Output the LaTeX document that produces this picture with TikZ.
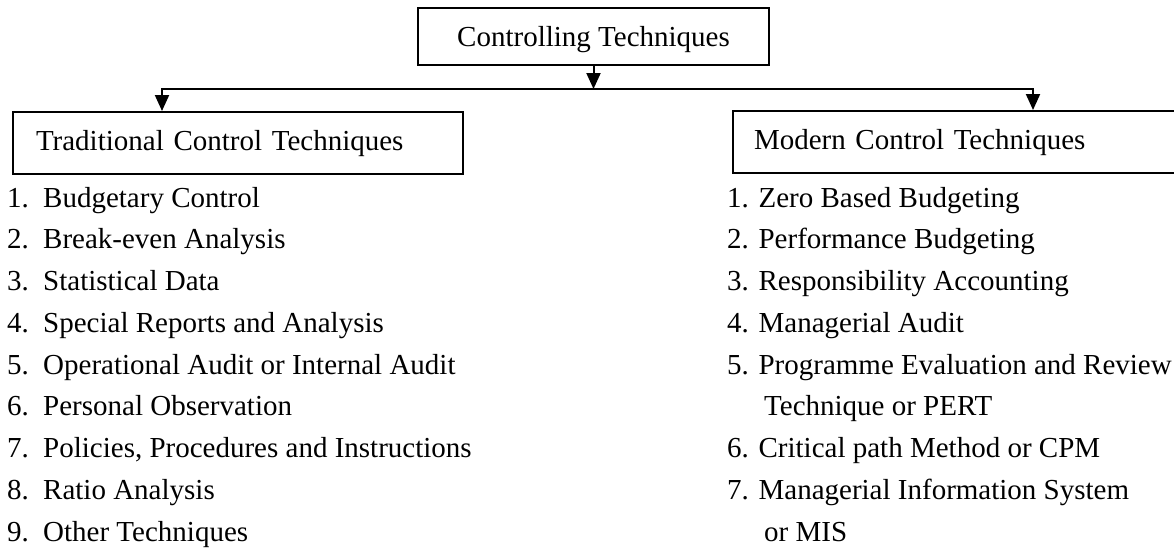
\documentclass[tikz,border=0pt]{standalone}
\usepackage{fontspec}
\setmainfont{Liberation Serif}
\usetikzlibrary{arrows.meta,positioning}

\begin{document}
\begin{tikzpicture}[x=1pt,y=-1pt,
  box/.style={draw, line width=2pt, font=\fontsize{29}{35}\selectfont, text height=20pt, text depth=6pt, minimum height=62pt, inner xsep=21pt, inner ysep=0pt},
  item/.style={anchor=base west, inner sep=0pt, font=\fontsize{29}{35}\selectfont},
  arr/.style={-{Triangle[length=16pt,width=14pt]}, line width=2pt}]
\useasboundingbox (0,0) rectangle (1174,552);
\clip (0,0) rectangle (1174,552);

% heading boxes
\node[box, minimum width=351pt, minimum height=57pt, text depth=0pt] (ctrl) at (593.5,36.5) {Controlling Techniques};
\node[box, anchor=north west, minimum width=450pt, inner xsep=23pt, text width=404pt, align=left] (trad) at (12,111) {Traditional Control Techniques};
\node[box, anchor=north west, minimum width=480pt, text width=438pt, align=left] (modern) at (732,110) {Modern Control Techniques};

% branching arrows
\coordinate (split) at (593.5,89);
\coordinate (lturn) at (162,89);
\coordinate (rturn) at (1033,89);
\draw[arr] (ctrl) -- (split);
\draw[arr] (split) -- (lturn) -- (lturn |- trad.north);
\draw[arr] (split) -- (rturn) -- (rturn |- modern.north);

% traditional list
\foreach \txt [count=\i] in {Budgetary Control, Break-even Analysis, Statistical Data, Special Reports and Analysis, Operational Audit or Internal Audit, Personal Observation, {Policies, Procedures and Instructions}, Ratio Analysis, Other Techniques}
  \node[item] (trad\i) at (7,{207+41.75*(\i-1)}) {\makebox[36pt][l]{\i.}\txt};

% modern list
\node[item] (mod1) at (727,207) {1. Zero Based Budgeting};
\node[item] (mod2) at (727,248.75) {2. Performance Budgeting};
\node[item] (mod3) at (727,290.5) {3. Responsibility Accounting};
\node[item] (mod4) at (727,332.25) {4. Managerial Audit};
\node[item] (mod5) at (727,374) {5. Programme Evaluation and Review};
\node[item] (mod5b) at (764,415.75) {Technique or PERT};
\node[item] (mod6) at (727,457.5) {6. Critical path Method or CPM};
\node[item] (mod7) at (727,499.25) {7. Managerial Information System};
\node[item] (mod7b) at (764,541) {or MIS};
\end{tikzpicture}
\end{document}
